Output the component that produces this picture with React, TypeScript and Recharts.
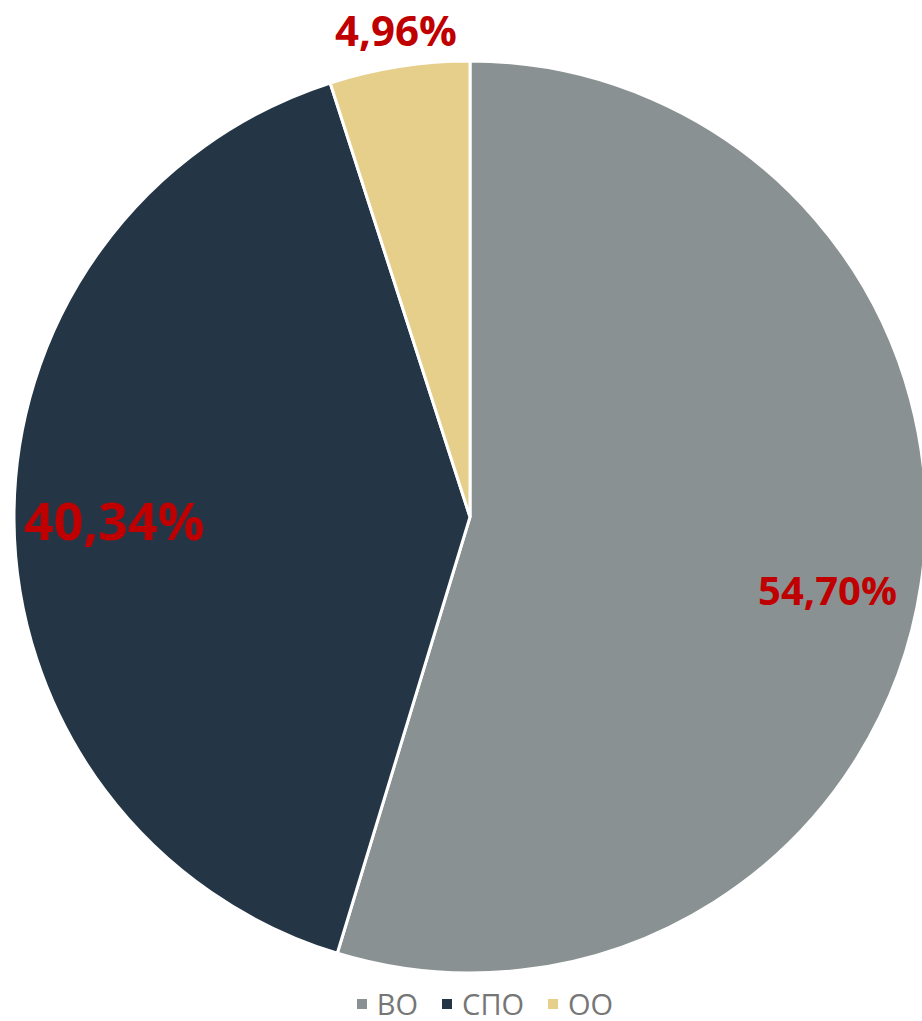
import { PieChart, Pie, Cell, Legend } from 'recharts'

const categories = ['ВО', 'СПО', 'ОО']
const shares = [54.7, 40.34, 4.96]
const colors = ['#8A9192', '#243646', '#E6CF8A']
// label placement per slice: radius fraction, angle nudge (deg), font size
const labelRadius = [0.8, 0.78, 1.046]
const labelNudge = [-3, 0, 0]
const labelSize = [40, 52, 42]
const labelBaseline = ['central', 'central', 'alphabetic']

const data = categories.map((name, i) => ({ name, value: shares[i] }))

const RAD = Math.PI / 180

function renderLabel(props: any) {
  const { cx, cy, midAngle, outerRadius, index, value } = props
  const a = (midAngle + labelNudge[index]) * RAD
  const r = outerRadius * labelRadius[index]
  const x = cx + r * Math.cos(a)
  const y = cy - r * Math.sin(a)
  return (
    <text
      x={x}
      y={y}
      fill="#C00000"
      fontSize={labelSize[index]}
      fontWeight={700}
      fontFamily="'Open Sans', sans-serif"
      textAnchor="middle"
      dominantBaseline={labelBaseline[index]}
    >
      {value.toFixed(2).replace('.', ',')}%
    </text>
  )
}

function LegendContent() {
  return (
    <div
      style={{
        display: 'flex',
        justifyContent: 'center',
        gap: 24,
        paddingLeft: 48,
        fontFamily: "'Open Sans', sans-serif",
        fontSize: 29,
        color: '#767676',
        lineHeight: '30px',
      }}
    >
      {categories.map((c, i) => (
        <div key={c} style={{ display: 'flex', alignItems: 'center' }}>
          <span
            style={{
              display: 'inline-block',
              width: 10,
              height: 10,
              background: colors[i],
              marginRight: 10,
            }}
          />
          {c}
        </div>
      ))}
    </div>
  )
}

export default function App() {
  return (
    <div style={{ position: 'absolute', left: 0, top: 0, background: '#fff' }}>
      <PieChart width={922} height={1021} margin={{ top: 0, right: 0, bottom: 0, left: 0 }}>
        <Pie
          data={data}
          dataKey="value"
          nameKey="name"
          cx={470}
          cy={517}
          outerRadius={456}
          startAngle={90}
          endAngle={-270}
          stroke="#fff"
          strokeWidth={3}
          label={renderLabel}
          labelLine={false}
          isAnimationActive={false}
        >
          {data.map((d, i) => (
            <Cell key={d.name} fill={colors[i]} />
          ))}
        </Pie>
        <Legend
          content={<LegendContent />}
          wrapperStyle={{ top: 989, left: 0, width: 922 }}
        />
      </PieChart>
    </div>
  )
}
